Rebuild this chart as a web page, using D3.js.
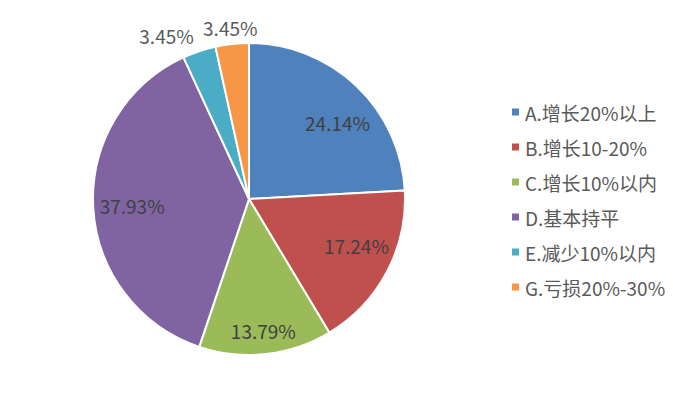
<!DOCTYPE html>
<html><head><meta charset="utf-8">
<script src="https://cdn.jsdelivr.net/npm/d3@7"></script>
<style>html,body{margin:0;padding:0;background:#fff;}svg{display:block;}</style>
</head><body>
<svg id="chart" width="673" height="398"></svg>
<script>
const categories = ["A.增长20%以上", "B.增长10-20%", "C.增长10%以内", "D.基本持平", "E.减少10%以内", "G.亏损20%-30%"];
const values = [24.14, 17.24, 13.79, 37.93, 3.45, 3.45];
const labels = ["24.14%", "17.24%", "13.79%", "37.93%", "3.45%", "3.45%"];
const colors = ["#4F81BD", "#C0504D", "#9BBB59", "#8064A2", "#4BACC6", "#F79646"];

const svg = d3.select("#chart");
const cx = 249, cy = 199, r = 156;
const font = "'Noto Sans CJK SC', 'Noto Sans', sans-serif";

const data = categories.map((c, i) => ({cat: c, value: values[i], label: labels[i], color: colors[i]}));
const pie = d3.pie().value(d => d.value).sort(null);
const arcs = pie(data);
const arc = d3.arc().innerRadius(0).outerRadius(r);

const g = svg.append("g").attr("transform", `translate(${cx},${cy})`);
g.selectAll("path").data(arcs).join("path")
  .attr("d", arc)
  .attr("fill", d => d.data.color)
  .attr("stroke", "#fff")
  .attr("stroke-width", 2)
  .attr("stroke-linejoin", "round");

// labels
arcs.forEach(a => {
  const span = a.endAngle - a.startAngle;
  const mid = (a.startAngle + a.endAngle) / 2;
  let x, y, anchor = "middle", fill = "#404040";
  if (span < 0.3) {
    const ro = r + 17;
    x = Math.sin(mid) * ro; y = -Math.cos(mid) * ro;
    fill = "#595959";
    if (Math.abs(mid - 2 * Math.PI) > 0.2) { anchor = "end"; x += 0; }
  } else {
    let f = span < 1.0 ? 0.85 : 0.75;
    let ang = mid;
    if (a.index === 0) ang = mid + 0.1;
    if (a.index === 1) ang = mid - 0.08;
    x = Math.sin(ang) * r * f; y = -Math.cos(ang) * r * f;
  }
  g.append("text")
    .attr("x", x).attr("y", y)
    .attr("text-anchor", anchor)
    .attr("dominant-baseline", "central")
    .attr("font-family", font)
    .attr("font-size", 19)
    .attr("fill", fill)
    .text(a.data.label);
});

// legend
const ly = d3.scalePoint().domain(categories).range([112, 287]);
const leg = svg.append("g");
categories.forEach((c, i) => {
  leg.append("rect")
    .attr("x", 512).attr("y", ly(c) - 3.5)
    .attr("width", 7).attr("height", 7)
    .attr("fill", colors[i]);
  leg.append("text")
    .attr("x", 525).attr("y", ly(c))
    .attr("dominant-baseline", "central")
    .attr("font-family", font)
    .attr("font-size", 19)
    .attr("fill", "#595959")
    .text(c);
});
</script>
</body></html>
